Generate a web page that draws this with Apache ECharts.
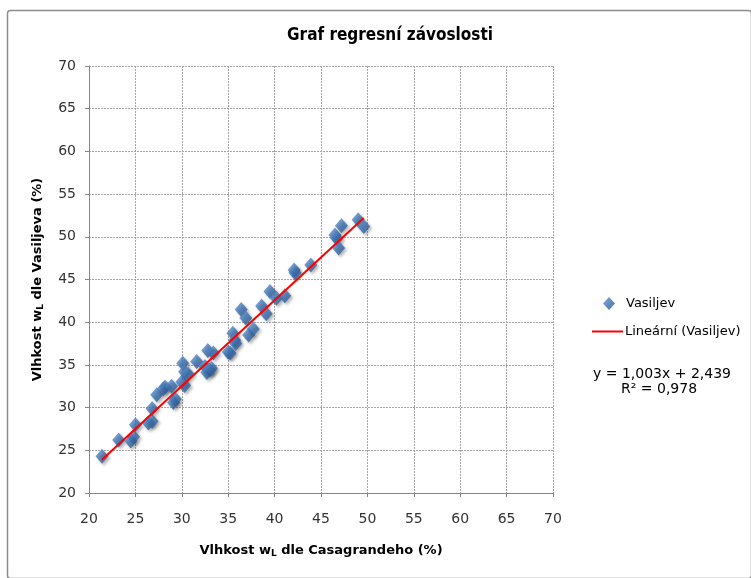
<!DOCTYPE html>
<html>
<head>
<meta charset="utf-8">
<script src="https://cdn.jsdelivr.net/npm/echarts@6/dist/echarts.min.js"></script>
<style>
  html, body { margin: 0; padding: 0; background: #fff; }
  #chart { width: 751px; height: 578px; }
</style>
</head>
<body>
<div id="chart"></div>
<script>
// measured values (Casagrande wL, Vasiljev wL)
var casagrande = [21.4, 23.2, 24.5, 24.8, 25.0, 26.4, 26.8, 26.8, 27.3, 28.0, 28.2, 28.9,
  29.1, 29.3, 30.0, 30.3, 30.1, 30.3, 30.7, 31.6, 32.5, 32.7, 33.0, 33.2, 32.8, 33.4,
  35.0, 35.2, 35.5, 35.7, 35.8, 36.4, 36.9, 37.2, 37.7, 38.6, 39.1, 39.5, 40.2, 41.1,
  42.1, 42.2, 43.9, 46.5, 46.7, 47.2, 46.9, 49.0, 49.6];
var vasiljev = [24.3, 26.2, 26.1, 26.6, 28.0, 28.2, 28.4, 29.9, 31.5, 32.2, 32.4, 32.5,
  30.6, 31.0, 33.0, 32.6, 35.2, 34.2, 33.9, 35.4, 34.8, 34.1, 34.4, 34.6, 36.7, 36.4,
  36.5, 36.4, 38.7, 37.9, 37.5, 41.5, 40.5, 38.5, 39.2, 41.9, 41.0, 43.6, 42.8, 43.1,
  46.1, 45.8, 46.7, 50.2, 49.8, 51.3, 48.7, 52.0, 51.2];
// trendline y = 1,003x + 2,439 endpoints
var trendX = [21.4, 49.6];
var trendY = [23.9, 52.2];

var points = casagrande.map(function (x, i) { return [x, vasiljev[i]]; });
var trend = trendX.map(function (x, i) { return [x, trendY[i]]; });

var chart = echarts.init(document.getElementById('chart'));
var labelFont = 'Verdana, "DejaVu Sans", sans-serif';

var nameRich = {
  b: { fontFamily: labelFont, fontWeight: 'bold', fontSize: 13, color: '#000' },
  s: { fontFamily: labelFont, fontWeight: 'bold', fontSize: 9, color: '#000', verticalAlign: 'bottom', padding: [6, 0, 0, 0] }
};

var option = {
  animation: false,
  backgroundColor: '#fff',
  title: {
    text: 'Graf regresní závoslosti',
    left: 385,
    top: 22,
    textAlign: 'center',
    textStyle: { fontFamily: '"Liberation Sans Narrow", "DejaVu Sans Condensed", sans-serif', fontWeight: 'bold', fontSize: 17, color: '#000' }
  },
  grid: { left: 89, top: 66, width: 464, height: 427 },
  legend: [
    {
      data: [{ name: 'Vasiljev', icon: 'diamond' }],
      left: 598, top: 292, itemWidth: 12, itemHeight: 13,
      textStyle: { fontFamily: labelFont, fontSize: 13, color: '#000', padding: [0, 0, 0, 6] }
    },
    {
      data: [{ name: 'Lineární (Vasiljev)', icon: 'rect' }],
      left: 587, top: 320, itemWidth: 31, itemHeight: 2,
      textStyle: { fontFamily: labelFont, fontSize: 13, color: '#000', padding: [0, 0, 0, -3] }
    }
  ],
  xAxis: {
    type: 'value', min: 20, max: 70, interval: 5,
    name: '{b|Vlhkost w}{s|L}{b| dle Casagrandeho (%)}',
    nameLocation: 'middle', nameGap: 50,
    nameTextStyle: { rich: nameRich },
    axisLine: { show: true, lineStyle: { color: '#868686' } },
    axisTick: { show: true, inside: false, length: 4, lineStyle: { color: '#868686' } },
    axisLabel: { fontFamily: labelFont, fontSize: 14, color: '#333', margin: 19 },
    splitLine: { lineStyle: { color: '#a6a6a6', type: [2, 1], width: 1 } }
  },
  yAxis: {
    type: 'value', min: 20, max: 70, interval: 5,
    name: '{b|Vlhkost w}{s|L}{b| dle Vasiljeva (%)}',
    nameLocation: 'middle', nameGap: 44, nameRotate: 90,
    nameTextStyle: { rich: nameRich },
    axisLine: { show: true, lineStyle: { color: '#868686' } },
    axisTick: { show: true, inside: false, length: 4, lineStyle: { color: '#868686' } },
    axisLabel: { fontFamily: labelFont, fontSize: 14, color: '#333', margin: 13 },
    splitLine: { lineStyle: { color: '#a6a6a6', type: [2, 1], width: 1 } }
  },
  series: [
    {
      name: 'Vasiljev',
      type: 'scatter',
      symbol: 'diamond',
      symbolSize: [13, 15],
      itemStyle: {
        color: new echarts.graphic.LinearGradient(0, 0, 1, 1, [
          { offset: 0, color: '#6a9ad4' },
          { offset: 0.5, color: '#3a70b0' },
          { offset: 1, color: '#28548a' }
        ]),
        shadowColor: 'rgba(0,0,0,0.35)', shadowBlur: 3, shadowOffsetX: 2, shadowOffsetY: 2
      },
      data: points,
      z: 2
    },
    {
      name: 'Lineární (Vasiljev)',
      type: 'line',
      symbol: 'none',
      lineStyle: { color: '#ff0000', width: 2 },
      itemStyle: { color: '#ff0000' },
      data: trend,
      z: 3
    }
  ],
  graphic: [
    {
      type: 'rect', left: 5, top: 8,
      shape: { width: 744, height: 568, r: 3 },
      style: { fill: 'none', stroke: '#8c8c8c', lineWidth: 1.5 },
      silent: true
    },
    {
      type: 'text', left: 593, top: 367,
      style: { text: 'y = 1,003x + 2,439', font: '14px ' + labelFont, fill: '#000' }
    },
    {
      type: 'text', left: 621, top: 382,
      style: { text: 'R² = 0,978', font: '14px ' + labelFont, fill: '#000' }
    }
  ]
};

chart.setOption(option);
</script>
</body>
</html>
